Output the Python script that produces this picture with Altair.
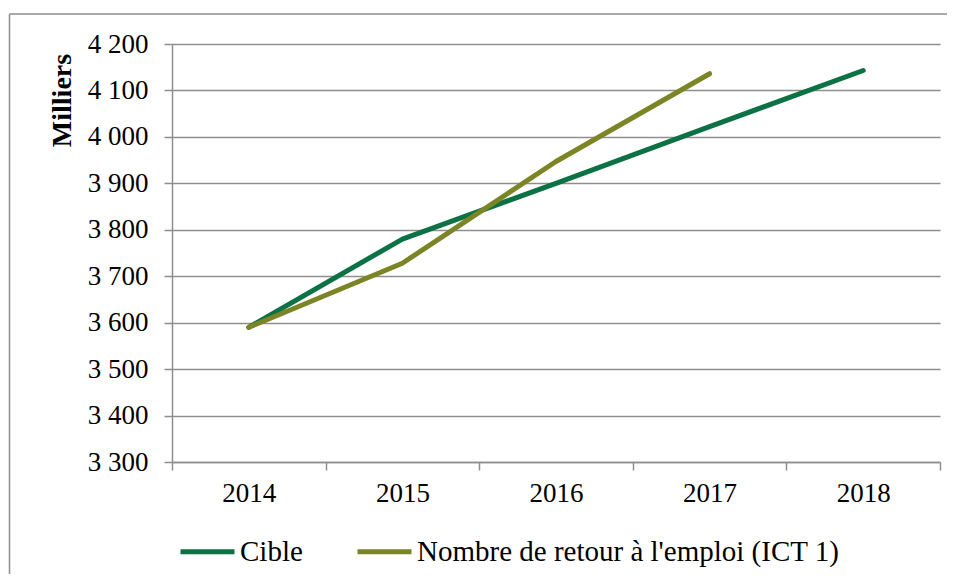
import altair as alt
import pandas as pd

years = ["2014", "2015", "2016", "2017", "2018"]
cible = [3590, 3780, 3900, 4022, 4143]
retour_years = ["2014", "2015", "2016", "2017"]
retour = [3590, 3728, 3947, 4136]

s_cible = "Cible"
s_retour = "Nombre de retour à l'emploi (ICT 1)"

rows = [{"annee": y, "valeur": v, "serie": s_cible} for y, v in zip(years, cible)]
rows += [{"annee": y, "valeur": v, "serie": s_retour} for y, v in zip(retour_years, retour)]
df = pd.DataFrame(rows)

FONT = "Liberation Serif"
GRID = "#8e8e8e"

W, H = 768, 418
PL, PT, PR, PB = 164, 36, 7, 112

one = pd.DataFrame({"a": [0]})
border_top = alt.Chart(one).mark_rule(stroke=GRID, strokeWidth=1.5).encode(
    x=alt.value(-162.5), x2=alt.value(W + PR), y=alt.value(-30)
)
border_left = alt.Chart(one).mark_rule(stroke=GRID, strokeWidth=1.5).encode(
    x=alt.value(-162.5), y=alt.value(-30), y2=alt.value(H + PB)
)

lines = alt.Chart(df).mark_line(strokeWidth=5, strokeCap="round", strokeJoin="round").encode(
    x=alt.X("annee:O", sort=years, bandPosition=0.5,
            scale=alt.Scale(type="band", domain=years, paddingInner=0, paddingOuter=0),
            axis=alt.Axis(title=None, labelAngle=0, tickBand="extent", grid=False,
                          labelPadding=10, tickSize=8)),
    y=alt.Y("valeur:Q", scale=alt.Scale(domain=[3300, 4200], nice=False, zero=False),
            axis=alt.Axis(title="Milliers", values=list(range(3300, 4201, 100)),
                          labelExpr="replace(format(datum.value, ','), ',', ' ')",
                          titleAngle=-90, titleX=-110, titleY=56, titleAlign="center",
                          titleBaseline="middle", titleFontWeight="bold", titleFontSize=28,
                          labelPadding=16, tickSize=8, grid=True)),
    color=alt.Color("serie:N", sort=[s_cible, s_retour],
                    scale=alt.Scale(domain=[s_cible, s_retour], range=["#0c7145", "#7b8526"]),
                    legend=alt.Legend(title=None, orient="none", direction="horizontal",
                                      legendX=6, legendY=478, symbolType="stroke",
                                      symbolSize=2916, symbolStrokeWidth=5,
                                      labelOffset=3, columnPadding=44, padding=0)),
    detail="serie:N",
)

chart = alt.layer(border_top, border_left, lines).properties(
    width=W, height=H,
    autosize=alt.AutoSizeParams(type="none"),
    padding={"left": PL, "top": PT, "right": PR, "bottom": PB},
).configure_view(stroke=None).configure_axis(
    labelFont=FONT, titleFont=FONT, labelFontSize=27, labelColor="#000", titleColor="#000",
    domainColor=GRID, tickColor=GRID, gridColor=GRID, domainWidth=1.5, tickWidth=1.5,
    gridWidth=1.5, gridOpacity=1,
).configure_legend(
    labelFont=FONT, labelFontSize=29, labelColor="#000", labelLimit=1000
)

chart.save("out.html", embed_options={"renderer": "svg", "actions": False})
